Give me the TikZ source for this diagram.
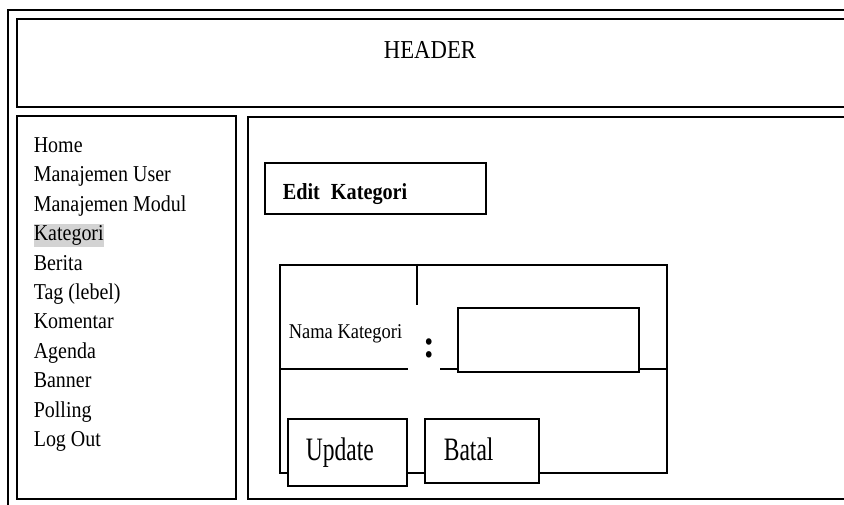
\documentclass[tikz,border=0pt]{standalone}
\usepackage[svgnames]{xcolor}
\usepackage{fontspec}
\setmainfont{Liberation Serif}[FakeStretch=0.88]
\newfontfamily\buttonfont{Liberation Serif}[FakeStretch=0.72]
\usepackage{tikz}
\usetikzlibrary{positioning}

\tikzset{
  box/.style={draw,anchor=north west,inner sep=0pt},
  menu item/.style={anchor=base west,inner xsep=0pt,inner ysep=1.5pt,font=\fontsize{22.7}{27}\selectfont},
  label text/.style={anchor=base west,inner sep=0pt}
}

\begin{document}
\begin{tikzpicture}[x=1pt,y=-1pt,line width=1.6pt]
\useasboundingbox (0,0) rectangle (844,505);
% frame
\draw (8,515) -- (8,10) -- (854,10);
\node[box,minimum width=828.9,minimum height=88] (header) at (16,18) {};
\node[anchor=base,font=\fontsize{25.8}{30}\selectfont] (headtitle) at (430,59) {HEADER};
\node[box,minimum width=219,minimum height=383] (menu) at (16,115) {};
\node[box,minimum width=597.9,minimum height=382] (content) at (247,116) {};
% menu
\foreach \item/\shade [count=\i] in {%
Home/none,Manajemen User/none,Manajemen Modul/none,Kategori/LightGray,%
Berita/none,Tag (lebel)/none,Komentar/none,Agenda/none,Banner/none,%
Polling/none,Log Out/none%
} {
\node[menu item,fill=\shade] (menu-\i) at (33,{152.5+29.4*(\i-1)}) {\item};
}
% form
\node[box,minimum width=221,minimum height=51] (editbox) at (264,162) {};
\node[label text,font=\bfseries\fontsize{23}{28}\selectfont] (edittitle) at (282,200) {Edit\hspace{11pt}Kategori};
\node[box,minimum width=387,minimum height=208] (form) at (279,264) {};
\draw (417,264) -- (417,305);
\draw (279,369) -- (408,369);
\draw (440,369) -- (666,369);
\node[label text,font=\fontsize{21}{25}\selectfont] (namalabel) at (288,338) {Nama Kategori};
\node[inner sep=0pt,font=\bfseries\fontsize{40}{40}\selectfont] (colon) at (429.5,348) {:};
\node[box,fill=white,minimum width=181,minimum height=64] (namainput) at (457,307) {};
\node[box,fill=white,minimum width=119,minimum height=67] (update) at (287,418) {};
\node[box,fill=white,minimum width=114,minimum height=64] (batal) at (424,418) {};
\node[label text,font=\buttonfont\fontsize{32.7}{38}\selectfont] (updatetext) at (305,460) {Update};
\node[label text,font=\buttonfont\fontsize{32.7}{38}\selectfont] (bataltext) at (443,460) {Batal};
\end{tikzpicture}
\end{document}
